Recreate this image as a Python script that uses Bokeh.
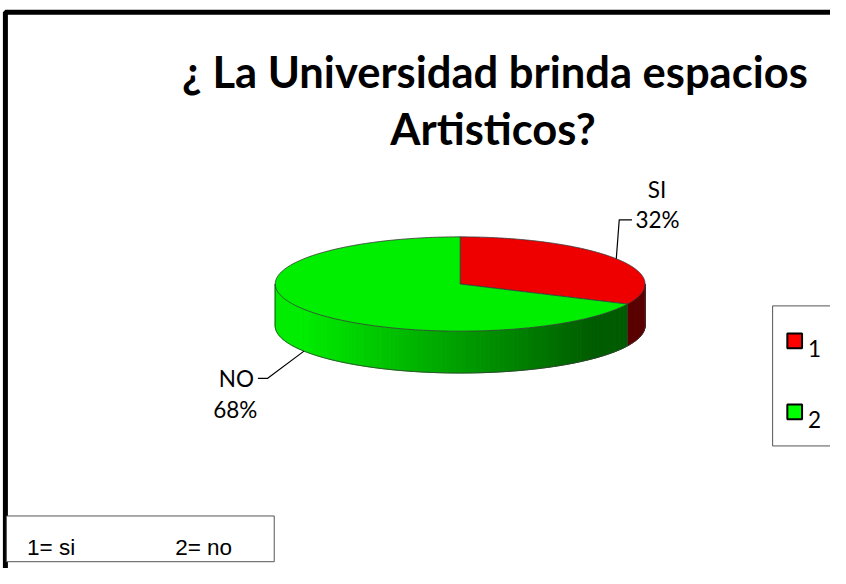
import numpy as np
from bokeh.plotting import figure
from bokeh.models import Range1d
from bokeh.embed import file_html
from bokeh.resources import INLINE
from bokeh.core.properties import value

# ---- data ----
categories = ["SI", "NO"]
legend_keys = ["1", "2"]
values = [32, 68]
top_colors = ["#EE0000", "#00EE00"]
legend_colors = ["#FF0000", "#00FF00"]
title_lines = ["¿ La Universidad brinda espacios", "Artisticos?"]
note_texts = ["1= si", "2= no"]

W, H = 830, 568
REF_W, REF_H = 846, 584
S = (W / REF_W + H / REF_H) / 2  # font scale


def fs(px):
    return "%.1fpx" % (px * S)


p = figure(width=W, height=H, output_backend="svg", toolbar_location=None,
           x_range=Range1d(0, REF_W), y_range=Range1d(REF_H, 0),
           x_axis_location=None, y_axis_location=None, min_border=0)
p.grid.visible = False
p.outline_line_color = None
p.background_fill_color = "white"
p.border_fill_color = "white"

# ---- outer border ----
p.line(x=[5, 5, 900], y=[700, 12, 12], line_color="black", line_width=5)

# ---- title ----
tfont = value("Lato")
p.text(x=[504], y=[72], text=[title_lines[0]], text_font=tfont,
       text_font_style="bold", text_font_size=fs(44.5), text_align="center",
       text_baseline="alphabetic", text_color="black")
p.text(x=[502], y=[131], text=[title_lines[1]], text_font=tfont,
       text_font_style="bold", text_font_size=fs(44.5), text_align="center",
       text_baseline="alphabetic", text_color="black")

# ---- 3D pie ----
cx, cy, rx, ry, depth = 468.5, 291.5, 188.5, 48.5, 43.0
vals = np.array(values, dtype=float)
frac = vals / vals.sum()
bounds = np.concatenate([[0.0], np.cumsum(frac) * 2 * np.pi])


def pt(t):
    return cx + rx * np.sin(t), cy - ry * np.cos(t)


def shade(i, xm):
    t = (xm - (cx - rx)) / (2 * rx)
    t = min(max(t, 0.0), 1.0)
    if i == 0:
        r = int(118 - 28 * t)
        return "#%02x%02x%02x" % (r, 0, 0)
    g = int(236 - (236 - 92) * min(max(t - 0.08, 0) / 0.78, 1.0))
    return "#%02x%02x%02x" % (0, g, 0)


side_xs, side_ys, side_cols = [], [], []
front0, front1 = np.pi / 2, 3 * np.pi / 2
for i in range(len(vals)):
    a0, a1 = max(bounds[i], front0), min(bounds[i + 1], front1)
    if a1 <= a0:
        continue
    n = max(int((a1 - a0) / np.pi * 120), 2)
    ts = np.linspace(a0, a1, n + 1)
    for k in range(n):
        xa, ya = pt(ts[k])
        xb, yb = pt(ts[k + 1])
        side_xs.append([xa, xb, xb, xa])
        side_ys.append([ya, yb, yb + depth, ya + depth])
        side_cols.append(shade(i, (xa + xb) / 2))
p.patches(side_xs, side_ys, fill_color=side_cols, line_color=side_cols, line_width=1)

top_xs, top_ys = [], []
for i in range(len(vals)):
    ts = np.linspace(bounds[i], bounds[i + 1], 200)
    x, y = pt(ts)
    top_xs.append(np.concatenate([[cx], x]).tolist())
    top_ys.append(np.concatenate([[cy], y]).tolist())
p.patches(top_xs, top_ys, fill_color=top_colors, line_color="#3a3a3a", line_width=0.8)

# outlines
tf = np.linspace(front0, front1, 200)
xf, yf = pt(tf)
p.line(xf, yf + depth, line_color="#3a3a3a", line_width=0.8)
for a in [front0, front1] + [b for b in bounds if front0 < b < front1]:
    xa, ya = pt(a)
    p.line([xa, xa], [ya, ya + depth], line_color="#3a3a3a", line_width=0.8)

# ---- data labels with leader lines ----
mids = (bounds[:-1] + bounds[1:]) / 2
lab_font = value("Lato")
for i, m in enumerate(mids):
    ax, ay = pt(m)
    if front0 < m < front1:
        ay = ay + depth
    pct = "%d%%" % round(frac[i] * 100)
    if np.sin(m) >= 0:
        lx, ly = ax + 3, ay - 40
        p.line([ax, lx, lx + 13], [ay, ly, ly], line_color="black", line_width=1.2)
        p.text([lx + 38.5], [ly - 31], text=[categories[i]], text_font=lab_font,
               text_font_size=fs(23), text_align="center", text_baseline="alphabetic")
        p.text([lx + 39], [ly], text=[pct], text_font=lab_font,
               text_font_size=fs(23), text_align="center", text_baseline="alphabetic")
    else:
        lx, ly = ax - 37, ay + 28
        p.line([ax, lx, lx - 10], [ay, ly, ly], line_color="black", line_width=1.2)
        p.text([lx - 32], [ly], text=[categories[i]], text_font=lab_font,
               text_font_size=fs(23), text_align="center", text_baseline="alphabetic")
        p.text([lx - 33], [ly + 32], text=[pct], text_font=lab_font,
               text_font_size=fs(23), text_align="center", text_baseline="alphabetic")

# ---- legend (partially cut off on the right) ----
p.quad(left=[787], right=[900], top=[314], bottom=[458], fill_color="white",
       line_color="#555555", line_width=1)
ly0 = [350, 423]
p.rect(x=[809.5, 809.5], y=ly0, width=15, height=15, fill_color=legend_colors,
       line_color="black", line_width=2)
p.text(x=[823, 823], y=[358, 431], text=legend_keys, text_font=value("Lato"),
       text_font_size=fs(23), text_baseline="alphabetic", text_align="left")

# ---- note box ----
p.quad(left=[6], right=[279], top=[530], bottom=[577], fill_color="white",
       line_color="#555555", line_width=1)
p.text(x=[27, 178], y=[562, 562], text=note_texts, text_font=value("Liberation Sans"),
       text_font_size=fs(23), text_baseline="alphabetic", text_align="left")

open("out.html", "w").write(file_html(p, INLINE))
